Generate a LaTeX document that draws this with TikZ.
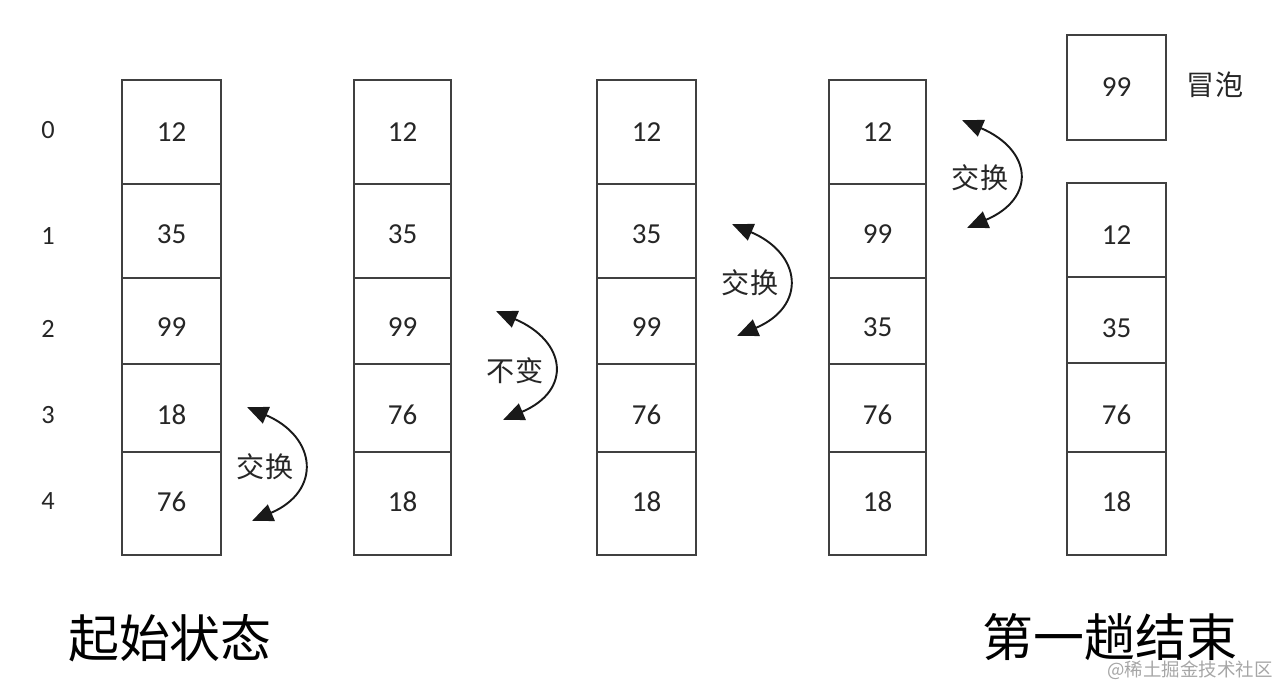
\documentclass[tikz,border=0pt]{standalone}
\usepackage{fontspec}
\setmainfont{Carlito}
\newfontfamily\cjk{Noto Sans CJK SC}
\usetikzlibrary{arrows.meta,calc}
\newcommand\bcol[8]{%
  \foreach \yt/\yb/\ty/\tx/\k in {80/184/132/#4/0, 184/278/234/#5/1, 278/364/327/#6/2, 364/452/415/#7/3, 452/555/502/#8/4}{%
    \draw[boxline] (#2,\yt) rectangle (#3,\yb);
    \node[num] (#1\k) at ({(#2+#3)/2},\ty) {\tx};
  }}
\begin{document}
\begin{tikzpicture}[x=0.02cm,y=-0.02cm,
  boxline/.style={draw=black!75, line width=0.95pt},
  num/.style={font=\fontsize{16.5}{18}\selectfont, text=black!85, inner sep=0pt},
  idx/.style={font=\fontsize{15}{17}\selectfont, text=black!85, inner sep=0pt},
  swaplbl/.style={font=\cjk\fontsize{16}{18}\selectfont, text=black!85, inner sep=0pt},
  titletext/.style={font=\cjk\fontsize{29}{32}\selectfont, inner sep=0pt},
  wmark/.style={font=\cjk\fontsize{10.5}{12}\selectfont, text=black!35, inner sep=0pt},
  swaparrow/.style={line width=1.1pt, draw=black!90,
    {Triangle[length=12pt,width=10pt]}-{Triangle[length=12pt,width=10pt]}}]
\useasboundingbox (0,0) rectangle (1286,682);

% index labels
\foreach \k/\y in {0/130,1/236,2/329,3/415,4/501}{
  \node[idx] (i\k) at (48,\y) {\k};
}

% columns
\bcol{a}{122}{221}{12}{35}{99}{18}{76}
\bcol{b}{354}{451}{12}{35}{99}{76}{18}
\bcol{c}{597}{696}{12}{35}{99}{76}{18}
\bcol{d}{829}{926}{12}{99}{35}{76}{18}

% final column
\draw[boxline] (1067,35) rectangle (1166,140);
\node[num] (e0) at (1116.5,87) {99};
\node[swaplbl] (bubble) at (1215,85) {冒泡};
\foreach \yt/\yb/\ty/\tx/\k in {183/277/235/12/1, 277/363/328/35/2, 363/452/415/76/3, 452/555/502/18/4}{
  \draw[boxline] (1067,\yt) rectangle (1166,\yb);
  \node[num] (e\k) at (1116.5,\ty) {\tx};
}

% swap arrows
\coordinate (s1t) at (247,407); \coordinate (s1b) at (252,521);
\coordinate (s2t) at (496,311); \coordinate (s2b) at (503,420);
\coordinate (s3t) at (732,224); \coordinate (s3b) at (737,336);
\coordinate (s4t) at (962,120); \coordinate (s4b) at (967,228);
\foreach \s in {1,2,3,4}{
  \draw[swaparrow] (s\s t) .. controls ($(s\s t)+(70,30)$) and ($(s\s b)+(70,-30)$) .. (s\s b);
}
\node[swaplbl] (l1) at (265,467) {交换};
\node[swaplbl] (l2) at (515,371) {不变};
\node[swaplbl] (l3) at (750,283) {交换};
\node[swaplbl] (l4) at (980,178) {交换};

% titles
\node[titletext] (start) at (170,638) {起始状态};
\node[titletext] (end) at (1110,637) {第一趟结束};
\node[wmark] (wm) at (1190,670) {@稀土掘金技术社区};
\end{tikzpicture}
\end{document}
